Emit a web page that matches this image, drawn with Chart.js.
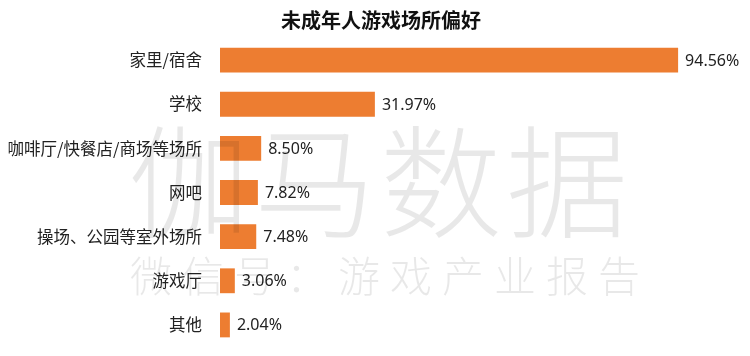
<!DOCTYPE html>
<html>
<head>
<meta charset="utf-8">
<script src="https://cdn.jsdelivr.net/npm/chart.js@4/dist/chart.umd.min.js"></script>
<style>
html,body{margin:0;padding:0;background:#fff;}
#wrap{width:750px;height:356px;position:relative;}
</style>
</head>
<body>
<div id="wrap"><canvas id="c" width="750" height="356"></canvas></div>
<script>
const categories = ["家里/宿舍","学校","咖啡厅/快餐店/商场等场所","网吧","操场、公园等室外场所","游戏厅","其他"];
const values = [94.56, 31.97, 8.50, 7.82, 7.48, 3.06, 2.04];
const valueLabels = ["94.56%","31.97%","8.50%","7.82%","7.48%","3.06%","2.04%"];
const titleText = "未成年人游戏场所偏好";
const watermarkMain = ["伽","马","数","据"];
const watermarkSub = ["微","信","号","：","游","戏","产","业","报","告"];

const CJK = '"Noto Sans CJK SC","Noto Sans",sans-serif';

const valueLabelPlugin = {
  id: 'valueLabels',
  afterDatasetsDraw(chart) {
    const ctx = chart.ctx;
    const meta = chart.getDatasetMeta(0);
    ctx.save();
    ctx.font = '16px "Noto Sans", sans-serif';
    ctx.fillStyle = '#222';
    ctx.textAlign = 'left';
    ctx.textBaseline = 'middle';
    meta.data.forEach((bar, i) => {
      ctx.fillText(valueLabels[i], bar.x + 7, bar.y + 1);
    });
    ctx.restore();
  }
};

const watermarkPlugin = {
  id: 'watermark',
  afterDraw(chart) {
    const ctx = chart.ctx;
    ctx.save();
    ctx.fillStyle = 'rgba(0,0,0,0.09)';
    ctx.textAlign = 'center';
    ctx.textBaseline = 'middle';
    ctx.font = '300 122px ' + CJK;
    watermarkMain.forEach((ch, i) => {
      ctx.fillText(ch, 189 + i * 126, 182);
    });
    ctx.font = '300 42px ' + CJK;
    watermarkSub.forEach((ch, i) => {
      ctx.fillText(ch, 151 + i * 52, 276);
    });
    ctx.restore();
  }
};

new Chart(document.getElementById('c'), {
  type: 'bar',
  data: {
    labels: categories,
    datasets: [{
      data: values,
      backgroundColor: '#ED7D31',
      borderWidth: 0,
      barPercentage: 0.75,
      categoryPercentage: 0.75
    }]
  },
  options: {
    indexAxis: 'y',
    responsive: false,
    animation: false,
    devicePixelRatio: 1,
    layout: { padding: { left: 0, right: -12, top: 0, bottom: 9 } },
    plugins: {
      legend: { display: false },
      tooltip: { enabled: false },
      title: {
        display: true,
        text: titleText,
        color: '#111',
        font: { family: CJK, size: 20, weight: 'bold' },
        padding: { top: 8, bottom: 6 }
      }
    },
    scales: {
      x: {
        display: false,
        min: 0,
        max: 109.4
      },
      y: {
        grid: { display: false, drawTicks: false },
        border: { display: false },
        afterFit(scale) {
          scale.width = 220;
          scale.paddingTop = 0;
          scale.paddingBottom = 0;
        },
        ticks: {
          color: '#222',
          padding: 18,
          font: { family: CJK, size: 16.5 }
        }
      }
    }
  },
  plugins: [valueLabelPlugin, watermarkPlugin]
});
</script>
</body>
</html>
